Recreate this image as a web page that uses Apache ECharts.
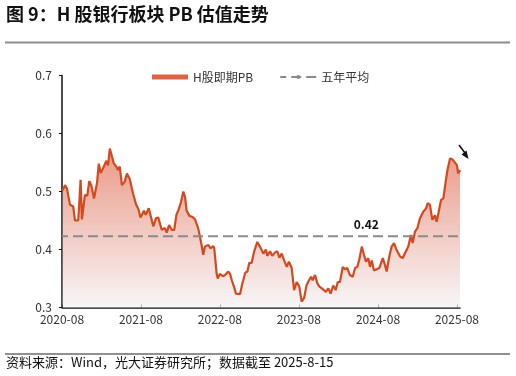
<!DOCTYPE html>
<html>
<head>
<meta charset="utf-8">
<script src="https://cdn.jsdelivr.net/npm/echarts@6/dist/echarts.min.js"></script>
<style>
html, body { margin: 0; padding: 0; background: #fff; }
#main { width: 516px; height: 376px; }
</style>
</head>
<body>
<div id="main"></div>
<script>
// H股银行板块即期PB
var dates = [
  '2020-08-04','2020-08-15','2020-08-24','2020-08-30','2020-09-07','2020-09-22','2020-09-30','2020-10-15','2020-10-26','2020-11-01',
  '2020-11-15','2020-11-26','2020-12-05','2020-12-15','2020-12-27','2021-01-03','2021-01-10','2021-01-18','2021-01-27','2021-02-07',
  '2021-02-22','2021-03-02','2021-03-10','2021-03-17','2021-03-28','2021-04-09','2021-04-17','2021-04-25','2021-05-05','2021-05-18',
  '2021-05-28','2021-06-10','2021-06-25','2021-07-10','2021-07-20','2021-07-30','2021-08-06','2021-08-15','2021-08-23','2021-09-06',
  '2021-09-14','2021-09-27','2021-10-10','2021-10-20','2021-11-05','2021-11-20','2021-11-28','2021-12-09','2021-12-21','2022-01-02',
  '2022-01-12','2022-01-21','2022-02-01','2022-02-13','2022-02-21','2022-02-28','2022-03-13','2022-03-28','2022-04-08','2022-04-23',
  '2022-05-01','2022-05-09','2022-05-16','2022-05-24','2022-06-08','2022-06-19','2022-07-01','2022-07-06','2022-07-17','2022-07-22',
  '2022-08-01','2022-08-14','2022-08-25','2022-09-01','2022-09-09','2022-09-17','2022-09-25','2022-10-05','2022-10-14','2022-10-22',
  '2022-11-02','2022-11-13','2022-11-17','2022-11-26','2022-12-06','2022-12-15','2022-12-26','2023-01-06','2023-01-21','2023-02-02',
  '2023-02-18','2023-03-02','2023-03-08','2023-03-21','2023-03-31','2023-04-13','2023-04-23','2023-05-03','2023-05-14','2023-05-24',
  '2023-06-06','2023-06-16','2023-06-29','2023-07-10','2023-07-22','2023-08-03','2023-08-14','2023-08-25','2023-09-06','2023-09-17',
  '2023-09-26','2023-10-04','2023-10-15','2023-10-25','2023-11-04','2023-11-15','2023-11-22','2023-12-04','2023-12-15','2023-12-26',
  '2024-01-07','2024-01-18','2024-01-28','2024-02-07','2024-02-20','2024-03-01','2024-03-12','2024-03-24','2024-04-06','2024-04-17',
  '2024-04-27','2024-05-06','2024-05-18','2024-05-28','2024-06-06','2024-06-17','2024-06-25','2024-07-03','2024-07-13','2024-07-26',
  '2024-08-07','2024-08-23','2024-09-02','2024-09-10','2024-09-22','2024-10-03','2024-10-14','2024-10-26','2024-11-03','2024-11-11',
  '2024-11-23','2024-12-04','2024-12-19','2024-12-31','2025-01-08','2025-01-19','2025-01-30','2025-02-11','2025-02-26','2025-03-11',
  '2025-03-19','2025-03-29','2025-04-09','2025-04-21','2025-04-29','2025-05-07','2025-05-19','2025-05-30','2025-06-11','2025-06-18',
  '2025-06-30','2025-07-12','2025-07-19','2025-07-31','2025-08-07','2025-08-11','2025-08-15'
];
var pbValues = [
  0.502,0.511,0.505,0.503,0.477,0.474,0.450,0.450,0.520,0.452,
  0.494,0.493,0.518,0.510,0.488,0.485,0.515,0.548,0.532,0.540,
  0.553,0.545,0.574,0.572,0.549,0.543,0.537,0.543,0.511,0.517,
  0.531,0.522,0.497,0.477,0.470,0.455,0.452,0.467,0.460,0.471,
  0.468,0.440,0.454,0.455,0.434,0.437,0.429,0.442,0.434,0.434,
  0.460,0.468,0.480,0.500,0.490,0.467,0.458,0.456,0.452,0.436,
  0.422,0.406,0.391,0.405,0.408,0.402,0.406,0.402,0.358,0.350,
  0.358,0.354,0.356,0.355,0.362,0.358,0.347,0.336,0.324,0.326,
  0.323,0.342,0.347,0.360,0.362,0.377,0.377,0.396,0.413,0.405,
  0.393,0.400,0.389,0.397,0.389,0.395,0.397,0.386,0.393,0.382,
  0.370,0.379,0.368,0.330,0.344,0.336,0.310,0.316,0.339,0.347,
  0.353,0.347,0.356,0.342,0.336,0.333,0.330,0.327,0.333,0.324,
  0.338,0.330,0.344,0.344,0.370,0.366,0.368,0.356,0.353,0.368,
  0.370,0.382,0.405,0.391,0.379,0.385,0.370,0.381,0.364,0.366,
  0.368,0.385,0.373,0.362,0.388,0.405,0.411,0.399,0.402,0.388,
  0.385,0.394,0.405,0.425,0.411,0.431,0.437,0.454,0.465,0.471,
  0.480,0.477,0.451,0.459,0.448,0.462,0.485,0.488,0.520,0.537,
  0.557,0.555,0.554,0.546,0.531,0.537,0.533
];
var avgPB = 0.423;
var avgLabel = '0.42';
var avgLabelDate = '2024-06-08';
var xStart = '2020-08-01';
var xEnd = '2025-08-15';
var xTicks = ['2020-08-01','2021-08-01','2022-08-01','2023-08-01','2024-08-01','2025-08-01'];

var FONT = '"Noto Sans CJK SC", "Liberation Sans", sans-serif';

var chartDom = document.getElementById('main');
var myChart = echarts.init(chartDom);

function ts(d) { return echarts.number.parseDate(d).getTime(); }

var pbData = dates.map(function (d, i) { return [ts(d), pbValues[i]]; });
var avgData = [[ts(xStart), avgPB], [ts(xEnd), avgPB]];
var tickValues = xTicks.map(ts);

var option = {
  animation: false,
  textStyle: { fontFamily: FONT },
  grid: { left: 62, right: 56, top: 75.5, bottom: 68.5 },
  legend: {
    left: 147,
    top: 66,
    itemWidth: 36,
    itemHeight: 5,
    itemGap: 26,
    textStyle: { fontSize: 12, color: '#333', fontFamily: FONT },
    data: [
      { name: 'H股即期PB', icon: 'rect', itemStyle: { color: '#dd6446' } },
      { name: '五年平均' }
    ]
  },
  xAxis: {
    type: 'value',
    min: ts(xStart),
    max: ts(xEnd),
    axisLine: { lineStyle: { color: '#111', width: 1.5 } },
    axisTick: { show: true, inside: true, length: 3, customValues: tickValues, lineStyle: { color: '#111' } },
    axisLabel: {
      customValues: tickValues,
      color: '#333',
      fontSize: 12,
      margin: 6,
      hideOverlap: false,
      formatter: function (v) {
        var d = new Date(v);
        var m = d.getMonth() + 1;
        return d.getFullYear() + '-' + (m < 10 ? '0' + m : m);
      }
    },
    splitLine: { show: false }
  },
  yAxis: {
    type: 'value',
    min: 0.3,
    max: 0.7,
    interval: 0.1,
    axisLine: { show: true, lineStyle: { color: '#111', width: 1.5 } },
    axisTick: { show: true, length: 3, lineStyle: { color: '#111' } },
    axisLabel: {
      color: '#333',
      fontSize: 12,
      margin: 10,
      formatter: function (v) { return v.toFixed(1); }
    },
    splitLine: { show: false }
  },
  series: [
    {
      name: 'H股即期PB',
      type: 'line',
      data: pbData,
      showSymbol: false,
      symbol: 'none',
      lineStyle: { color: '#d4491f', width: 2.2 },
      itemStyle: { color: '#d4491f' },
      areaStyle: {
        color: new echarts.graphic.LinearGradient(0, 0, 0, 1, [
          { offset: 0, color: '#e06d52' },
          { offset: 1, color: '#f4f1f4' }
        ])
      },
      z: 2
    },
    {
      name: '五年平均',
      type: 'line',
      data: avgData,
      showSymbol: false,
      symbol: 'none',
      lineStyle: { color: '#8a8a8a', width: 2, type: [10, 5], dashOffset: 4 },
      itemStyle: { color: '#8a8a8a' },
      markPoint: {
        symbol: 'circle',
        symbolSize: 1,
        itemStyle: { color: 'rgba(0,0,0,0)' },
        label: {
          show: true,
          position: 'top',
          distance: 5,
          color: '#111',
          fontWeight: 'bold',
          fontSize: 12,
          formatter: avgLabel
        },
        data: [{ coord: [ts(avgLabelDate), avgPB] }]
      },
      z: 3
    }
  ],
  graphic: [
    {
      type: 'text', left: 6, top: 5,
      style: { text: '图 9：H 股银行板块 PB 估值走势', font: 'bold 18px ' + FONT, fill: '#111' }
    },
    {
      type: 'rect', shape: { x: 5, y: 41.5, width: 505, height: 2 },
      style: { fill: '#8c8c8c' }
    },
    {
      type: 'rect', shape: { x: 5, y: 353.5, width: 505, height: 1 },
      style: { fill: '#222' }
    },
    {
      type: 'text', left: 6, top: 356,
      style: { text: '资料来源：Wind，光大证券研究所；数据截至 2025-8-15', font: '13px ' + FONT, fill: '#111' }
    },
    {
      type: 'line', shape: { x1: 459, y1: 145, x2: 465, y2: 153 },
      style: { stroke: '#111', lineWidth: 1.5 }
    },
    {
      type: 'polygon', shape: { points: [[468.5, 159], [461.5, 154.5], [466.5, 150.5]] },
      style: { fill: '#111' }
    }
  ]
};

option && myChart.setOption(option);
</script>
</body>
</html>
